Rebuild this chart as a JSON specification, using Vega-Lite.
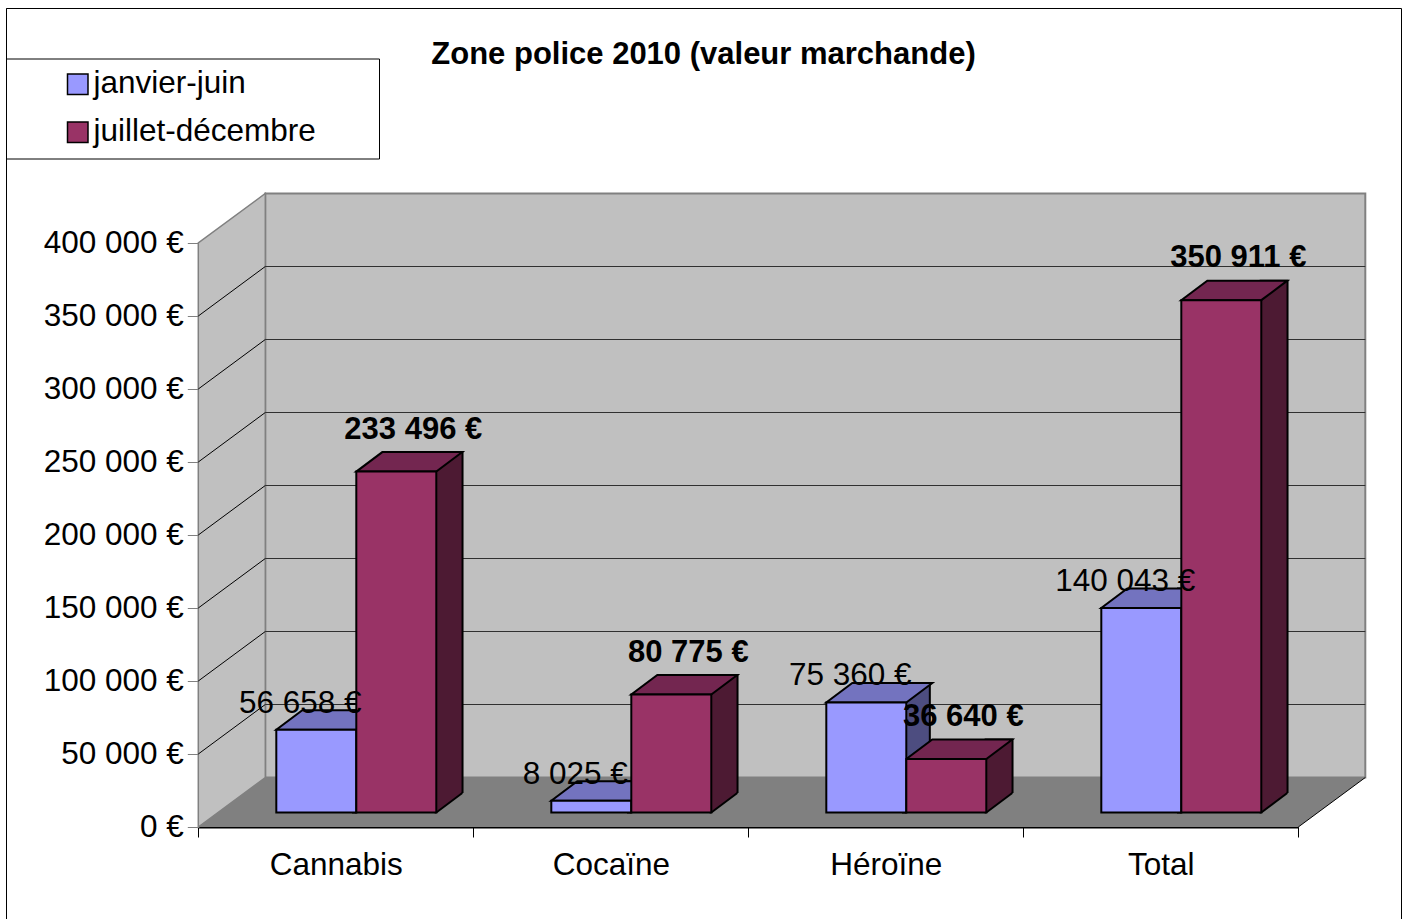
{
  "$schema": "https://vega.github.io/schema/vega-lite/v6.json",
  "width": 1395,
  "height": 911,
  "autosize": {"type": "none"},
  "padding": {"left": 6, "top": 8, "right": 5, "bottom": 0},
  "background": "#ffffff",
  "config": {
    "locale": {"number": {"decimal": ",", "thousands": " ", "grouping": [3], "currency": ["", " €"]}},
    "view": {"stroke": "#000000", "strokeWidth": 1, "strokeDash": [2306, 1395, 911]},
    "font": "Liberation Sans",
    "axisY": {
      "offset": -192.3, "domainColor": "#808080", "domainWidth": 1.5, "tickColor": "#808080",
      "tickSize": 11, "tickWidth": 1, "labelFontSize": 31.5, "labelColor": "#000000",
      "labelFont": "Liberation Sans", "labelPadding": 4, "grid": false, "labelBaseline": "middle"
    },
    "axisX": {
      "offset": -92, "tickBand": "extent", "domainColor": "#000000", "domainWidth": 2,
      "tickColor": "#000000", "tickSize": 10, "tickWidth": 1, "labelFontSize": 31.5,
      "labelFont": "Liberation Sans", "labelColor": "#000000", "labelPadding": 37,
      "labelBaseline": "alphabetic", "labelAngle": 0, "grid": false
    }
  },
  "title": {
    "text": "Zone police 2010 (valeur marchande)", "fontSize": 31, "fontWeight": "bold",
    "font": "Liberation Sans", "color": "#000000", "anchor": "middle", "frame": "group",
    "baseline": "alphabetic", "offset": -86.5
  },
  "datasets": {
    "bars": [
      {"cat": "Cannabis", "series": "janvier-juin", "value": 56658},
      {"cat": "Cannabis", "series": "juillet-décembre", "value": 233496},
      {"cat": "Cocaïne", "series": "janvier-juin", "value": 8025},
      {"cat": "Cocaïne", "series": "juillet-décembre", "value": 80775},
      {"cat": "Héroïne", "series": "janvier-juin", "value": 75360},
      {"cat": "Héroïne", "series": "juillet-décembre", "value": 36640},
      {"cat": "Total", "series": "janvier-juin", "value": 140043},
      {"cat": "Total", "series": "juillet-décembre", "value": 350911}
    ],
    "grid": [{"v": 50000}, {"v": 100000}, {"v": 150000}, {"v": 200000}, {"v": 250000}, {"v": 300000}, {"v": 350000}]
  },
  "resolve": {"scale": {"x": "independent", "xOffset": "independent"}},
  "layer": [
    {
      "layer": [
        {
          "data": {"values": [{}]},
          "mark": {"type": "rect", "fill": "#c0c0c0", "stroke": "#808080", "strokeWidth": 2,
                   "xOffset": 67, "x2Offset": 67, "yOffset": -49.5, "y2Offset": -49.5},
          "encoding": {
            "x": {"datum": 0, "type": "quantitative", "scale": {"domain": [0, 1], "range": [192.3, 1292.3], "nice": false, "zero": false}, "axis": null},
            "x2": {"datum": 1},
            "y": {"datum": 0, "type": "quantitative", "title": null,
                  "scale": {"domain": [0, 400000], "range": [819, 235], "nice": false, "zero": false},
                  "axis": {"values": [0, 50000, 100000, 150000, 200000, 250000, 300000, 350000, 400000], "format": "$,d", "title": null}},
            "y2": {"datum": 400000}
          }
        },
        {
          "data": {"values": [{}]},
          "mark": {"type": "point", "shape": "M0,0L0,-584L67,-633.5L67,-49.5Z", "size": 4, "filled": true,
                   "fill": "#c0c0c0", "stroke": "#808080", "strokeWidth": 1.5, "opacity": 1},
          "encoding": {
            "x": {"datum": 0, "type": "quantitative", "axis": null},
            "y": {"datum": 0, "type": "quantitative", "title": null}
          }
        },
        {
          "data": {"values": [{}]},
          "mark": {"type": "point", "shape": "M0,0L1100,0L1167,-49.5L67,-49.5Z", "size": 4, "filled": true,
                   "fill": "#808080", "strokeWidth": 0, "opacity": 1},
          "encoding": {
            "x": {"datum": 0, "type": "quantitative", "axis": null},
            "y": {"datum": 0, "type": "quantitative", "title": null}
          }
        },
        {
          "data": {"values": [{}]},
          "mark": {"type": "point", "shape": "M1100,0L1167,-49.5", "size": 4, "filled": false,
                   "fill": "transparent", "stroke": "#000000", "strokeWidth": 1, "opacity": 1},
          "encoding": {
            "x": {"datum": 0, "type": "quantitative", "axis": null},
            "y": {"datum": 0, "type": "quantitative", "title": null}
          }
        },
        {
          "data": {"name": "grid"},
          "mark": {"type": "rule", "color": "#303030", "strokeWidth": 1,
                   "xOffset": 67, "x2Offset": 67, "yOffset": -49.5},
          "encoding": {
            "x": {"datum": 0, "type": "quantitative", "axis": null},
            "x2": {"datum": 1},
            "y": {"field": "v", "type": "quantitative", "title": null}
          }
        },
        {
          "data": {"name": "grid"},
          "mark": {"type": "point", "shape": "M0,0L67,-49.5", "size": 4, "filled": false,
                   "fill": "transparent", "stroke": "#000000", "strokeWidth": 1, "opacity": 1},
          "encoding": {
            "x": {"datum": 0, "type": "quantitative", "axis": null},
            "y": {"field": "v", "type": "quantitative", "title": null}
          }
        }
      ]
    },
    {
      "data": {"name": "bars"},
      "encoding": {
        "x": {"field": "cat", "type": "nominal", "sort": ["Cannabis", "Cocaïne", "Héroïne", "Total"], "title": null,
              "scale": {"range": [192.3, 1292.3], "paddingInner": 0, "paddingOuter": 0}, "axis": null},
        "xOffset": {"field": "series", "type": "nominal", "sort": ["janvier-juin", "juillet-décembre"],
                    "scale": {"paddingInner": 0.675, "paddingOuter": 1.05625, "align": 0.93491}}
      },
      "layer": [
        {
          "mark": {"type": "bar", "yOffset": -34, "y2Offset": -14.5, "stroke": "#000000", "strokeWidth": 2},
          "encoding": {
            "y": {"field": "value", "type": "quantitative", "title": null},
            "y2": {"datum": 0},
            "fill": {"condition": {"test": "datum.series === 'janvier-juin'", "value": "#4d4d80"}, "value": "#4d1a33"}
          }
        }
      ]
    },
    {
      "data": {"name": "bars"},
      "encoding": {
        "x": {"field": "cat", "type": "nominal", "sort": ["Cannabis", "Cocaïne", "Héroïne", "Total"], "title": null,
              "scale": {"range": [192.3, 1292.3], "paddingInner": 0, "paddingOuter": 0}},
        "xOffset": {"field": "series", "type": "nominal", "sort": ["janvier-juin", "juillet-décembre"],
                    "scale": {"paddingInner": 0, "paddingOuter": 0.71875, "align": 0.67826}}
      },
      "layer": [
        {
          "mark": {"type": "point", "shape": "M40,0L66,-19.5L69,-19.5L69,3L40,3Z", "size": 4, "filled": true,
                   "fill": "#808080", "strokeWidth": 0, "opacity": 1, "yOffset": -14.5},
          "encoding": {
            "y": {"datum": 0, "type": "quantitative", "title": null}
          }
        },
        {
          "mark": {"type": "point", "shape": "M40,0L66,-19.5", "size": 4, "filled": false,
                   "fill": "transparent", "stroke": "#000000", "strokeWidth": 2, "opacity": 1, "yOffset": -14.5},
          "encoding": {
            "y": {"datum": 0, "type": "quantitative", "title": null}
          }
        },
        {
          "mark": {"type": "point", "shape": "M-40,0L40,0L66,-19.5L-14,-19.5Z", "size": 4, "filled": true,
                   "stroke": "#000000", "strokeWidth": 2, "opacity": 1, "yOffset": -14.5},
          "encoding": {
            "y": {"field": "value", "type": "quantitative", "title": null},
            "fill": {"condition": {"test": "datum.series === 'janvier-juin'", "value": "#7373bf"}, "value": "#732650"}
          }
        },
        {
          "mark": {"type": "bar", "yOffset": -14.5, "y2Offset": -14.5, "stroke": "#000000", "strokeWidth": 2},
          "encoding": {
            "y": {"field": "value", "type": "quantitative", "title": null},
            "y2": {"datum": 0},
            "fill": {
              "field": "series", "type": "nominal",
              "scale": {"domain": ["janvier-juin", "juillet-décembre"], "range": ["#9999ff", "#993366"]},
              "legend": {
                "orient": "none", "legendX": 0, "legendY": 50.5, "title": null,
                "padding": 10, "rowPadding": 15, "symbolOffset": 46, "labelOffset": 0,
                "symbolType": "square", "symbolSize": 420, "symbolStrokeColor": "#000000",
                "symbolStrokeWidth": 1.5, "labelFontSize": 31.5, "labelFont": "Liberation Sans",
                "labelColor": "#000000", "fillColor": "#ffffff", "strokeColor": "#000000",
                "labelLimit": 0, "labelExpr": "datum.label + '      \u200b'"
              }
            }
          }
        },
        {
          "transform": [{"filter": "datum.series === 'janvier-juin'"}],
          "mark": {"type": "text", "font": "Liberation Sans", "fontSize": 31.5, "color": "#000000",
                   "align": "center", "baseline": "alphabetic", "dx": -16, "yOffset": -31.5},
          "encoding": {
            "y": {"field": "value", "type": "quantitative", "title": null},
            "text": {"field": "value", "type": "quantitative", "format": "$,d"}
          }
        },
        {
          "transform": [{"filter": "datum.series === 'juillet-décembre'"}],
          "mark": {"type": "text", "font": "Liberation Sans", "fontSize": 31, "fontWeight": "bold", "color": "#000000",
                   "align": "center", "baseline": "alphabetic", "dx": 17, "yOffset": -47.5},
          "encoding": {
            "y": {"field": "value", "type": "quantitative", "title": null},
            "text": {"field": "value", "type": "quantitative", "format": "$,d"}
          }
        }
      ]
    }
  ]
}
